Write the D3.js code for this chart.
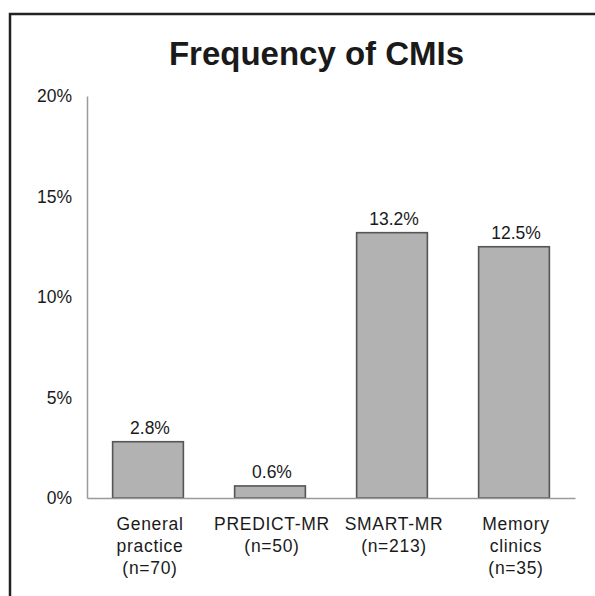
<!DOCTYPE html>
<html>
<head>
<meta charset="utf-8">
<script src="https://cdn.jsdelivr.net/npm/d3@7"></script>
<style>
  html, body { margin: 0; padding: 0; background: #fff; }
  svg { display: block; }
  text { font-family: "Liberation Sans", Arial, sans-serif; fill: #1a1a1a; }
</style>
</head>
<body>
<svg id="chart" width="595" height="596"></svg>
<script>
const title = "Frequency of CMIs";
const categories = [
  ["General", "practice", "(n=70)"],
  ["PREDICT-MR", "(n=50)"],
  ["SMART-MR", "(n=213)"],
  ["Memory", "clinics", "(n=35)"]
];
const values = [2.8, 0.6, 13.2, 12.5];
const valueLabels = ["2.8%", "0.6%", "13.2%", "12.5%"];
const yTicks = [0, 5, 10, 15, 20];
const yTickLabels = ["0%", "5%", "10%", "15%", "20%"];

const svg = d3.select("#chart");

// outer frame
svg.append("rect")
  .attr("x", 10).attr("y", 14)
  .attr("width", 620).attr("height", 620)
  .attr("fill", "none").attr("stroke", "#222").attr("stroke-width", 2.5);

const plotLeft = 87, plotRight = 575, plotTop = 96, plotBottom = 498;

const x = d3.scaleBand()
  .domain(d3.range(values.length))
  .range([plotLeft, plotRight])
  .paddingInner(0.42)
  .paddingOuter(0.21);

const y = d3.scaleLinear().domain([0, 20]).range([plotBottom, plotTop]);

// title
svg.append("text")
  .attr("x", 316.5).attr("y", 65)
  .attr("text-anchor", "middle")
  .style("font-size", "33px").style("font-weight", "bold")
  .text(title);

// y axis
const yAxis = d3.axisLeft(y)
  .tickValues(yTicks)
  .tickFormat((d, i) => yTickLabels[i])
  .tickSize(0).tickPadding(15);
const gy = svg.append("g").attr("transform", `translate(${plotLeft},0)`).call(yAxis);
gy.select(".domain").attr("stroke", "#9a9a9a").attr("stroke-width", 1.5);
gy.selectAll("text").style("font-size", "17.5px").attr("fill", "#1a1a1a")
  .style("font-family", "Liberation Sans, Arial, sans-serif");

// bars
svg.append("g").selectAll("rect")
  .data(values)
  .join("rect")
  .attr("x", (d, i) => x(i))
  .attr("y", d => y(d))
  .attr("width", x.bandwidth())
  .attr("height", d => y(0) - y(d))
  .attr("fill", "#b2b2b2")
  .attr("stroke", "#555")
  .attr("stroke-width", 1.6);

// x baseline
const xAxis = d3.axisBottom(x).tickSize(0).tickFormat("");
const gx = svg.append("g").attr("transform", `translate(0,${plotBottom})`).call(xAxis);
gx.select(".domain").attr("stroke", "#9a9a9a").attr("stroke-width", 1.5);

// value labels
svg.append("g").selectAll("text")
  .data(values)
  .join("text")
  .attr("x", (d, i) => x(i) + x.bandwidth() / 2 + 2)
  .attr("y", d => y(d) - 8)
  .attr("text-anchor", "middle")
  .style("font-size", "17.5px")
  .text((d, i) => valueLabels[i]);

// category labels
const cat = svg.append("g").selectAll("text")
  .data(categories)
  .join("text")
  .attr("text-anchor", "middle")
  .style("font-size", "17.5px")
  .style("letter-spacing", "0.7px");
cat.each(function(lines, i) {
  const t = d3.select(this);
  lines.forEach((ln, j) => {
    t.append("tspan")
      .attr("x", x(i) + x.bandwidth() / 2 + 2)
      .attr("y", 530 + j * 22)
      .text(ln);
  });
});
</script>
</body>
</html>
